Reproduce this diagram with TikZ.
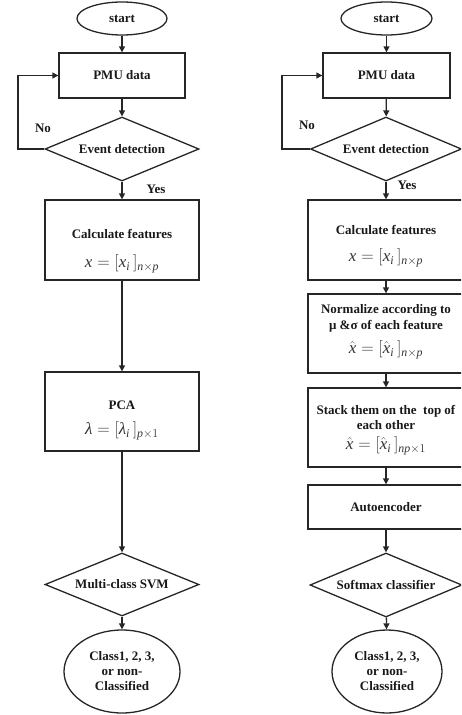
\documentclass[tikz,border=0pt]{standalone}
\usepackage{amsmath}
\usepackage{fontspec}
\setmainfont{Liberation Serif}
\usetikzlibrary{shapes.geometric,arrows.meta}
\newcommand\txtf{\bfseries\fontsize{13}{15}\selectfont}
\newcommand\fmlf{\fontsize{17}{19}\selectfont}
\begin{document}
\begin{tikzpicture}[x=1pt,y=-1pt,
  line/.style={line width=1.3pt, draw=black!85},
  arr/.style={line, -{Triangle[length=6pt,width=6pt]}},
  box/.style={line, rectangle, inner sep=0pt, font=\txtf, text=black!90},
  oval/.style={line, ellipse, inner sep=0pt, font=\txtf, text=black!90, align=center},
  dec/.style={line, diamond, aspect=2.4, inner sep=0pt, font=\txtf, text=black!90},
  lbl/.style={inner sep=0pt, font=\txtf, text=black!90, align=center},
  fml/.style={inner sep=0pt, font=\fmlf, text=black!80}
]
\useasboundingbox (0,0) rectangle (461,715);
\clip (0,0) rectangle (461,715);

% ---------- left chart ----------
\node[oval, minimum width=90pt, minimum height=33pt] (s1) at (122,18.5) {start};
\node[box, minimum width=126pt, minimum height=45pt] (p1) at (122,75.5) {PMU data};
\node[dec, minimum width=154pt, minimum height=64pt] (d1) at (122,149) {Event detection};
\node[box, minimum width=154pt, minimum height=80pt] (c1) at (122,240) {};
\node[lbl] (c1t) at (122,234) {Calculate features};
\node[fml] (c1f) at (122,264) {$\textit{x}=[\textit{x}_{\textit{i}}\,]_{\textit{n}\times\textit{p}}$};
\node[box, minimum width=154pt, minimum height=79pt] (pca) at (122,411.5) {};
\node[lbl] (pcat) at (122,405) {PCA};
\node[fml] (pcaf) at (122,431) {$\textit{λ}=[\textit{λ}_{\textit{i}}\,]_{\textit{p}\times 1}$};
\node[dec, minimum width=154pt, minimum height=63pt] (svm) at (122,584.5) {Multi-class SVM};
\node[oval, minimum width=116pt, minimum height=83pt] (e1) at (122,671.5) {Class1, 2, 3,\\or non-\\Classified};
\node[lbl] (no1) at (43,128) {No};
\node[lbl] (yes1) at (156,189) {Yes};
\coordinate (l1) at (18,149);

\draw[arr] (s1) -- (p1);
\draw[arr] (p1) -- (d1);
\draw[arr] (d1) -- (c1);
\draw[arr] (d1.west) -- (l1) |- (p1.west);
\draw[arr] (c1) -- (pca);
\draw[arr] (pca) -- (svm);
\draw[arr] (svm) -- (e1);

% ---------- right chart ----------
\node[oval, minimum width=91pt, minimum height=33pt] (s2) at (386.5,18.5) {start};
\node[box, minimum width=127pt, minimum height=45pt] (p2) at (386.5,75.5) {PMU data};
\node[dec, minimum width=151pt, minimum height=64pt] (d2) at (386,149) {Event detection};
\node[box, minimum width=156pt, minimum height=80pt] (c2) at (386,240) {};
\node[lbl] (c2t) at (386,230) {Calculate features};
\node[fml] (c2f) at (386,258) {$\textit{x}=[\textit{x}_{\textit{i}}\,]_{\textit{n}\times\textit{p}}$};
\node[box, minimum width=156pt, minimum height=79pt] (n2) at (386,333.5) {};
\node[lbl, font=\bfseries\fontsize{13}{16}\selectfont] (n2t) at (386,318.5) {Normalize according to\\μ \&σ of each feature};
\node[fml] (n2f) at (386,350) {$\hat{\textit{x}}=[\hat{\textit{x}}_{\textit{i}}\,]_{\textit{n}\times\textit{p}}$};
\node[box, minimum width=156pt, minimum height=79pt] (st2) at (386,427.5) {};
\node[lbl] (st2t) at (386,417.5) {Stack them on the\ \ top of\\each other};
\node[fml] (st2f) at (386,446) {$\hat{\textit{x}}=[\hat{\textit{x}}_{\textit{i}}\,]_{\textit{np}\times 1}$};
\node[box, minimum width=156pt, minimum height=44pt] (a2) at (386,507) {Autoencoder};
\node[dec, minimum width=152pt, minimum height=64pt] (sm2) at (386,585) {Softmax classifier};
\node[oval, minimum width=110pt, minimum height=83pt] (e2) at (387,671.5) {Class1, 2, 3,\\or non-\\Classified};
\node[lbl] (no2) at (307,125) {No};
\node[lbl] (yes2) at (407,185) {Yes};
\coordinate (l2) at (282,149);

\draw[arr] (s2) -- (p2);
\draw[arr] (p2) -- (d2);
\draw[arr] (d2) -- (c2);
\draw[arr] (d2.west) -- (l2) |- (p2.west);
\draw[arr] (c2) -- (n2);
\draw[arr] (n2) -- (st2);
\draw[arr] (st2) -- (a2);
\draw[arr] (a2) -- (sm2);
\draw[arr] (sm2) -- (e2);
\end{tikzpicture}
\end{document}
